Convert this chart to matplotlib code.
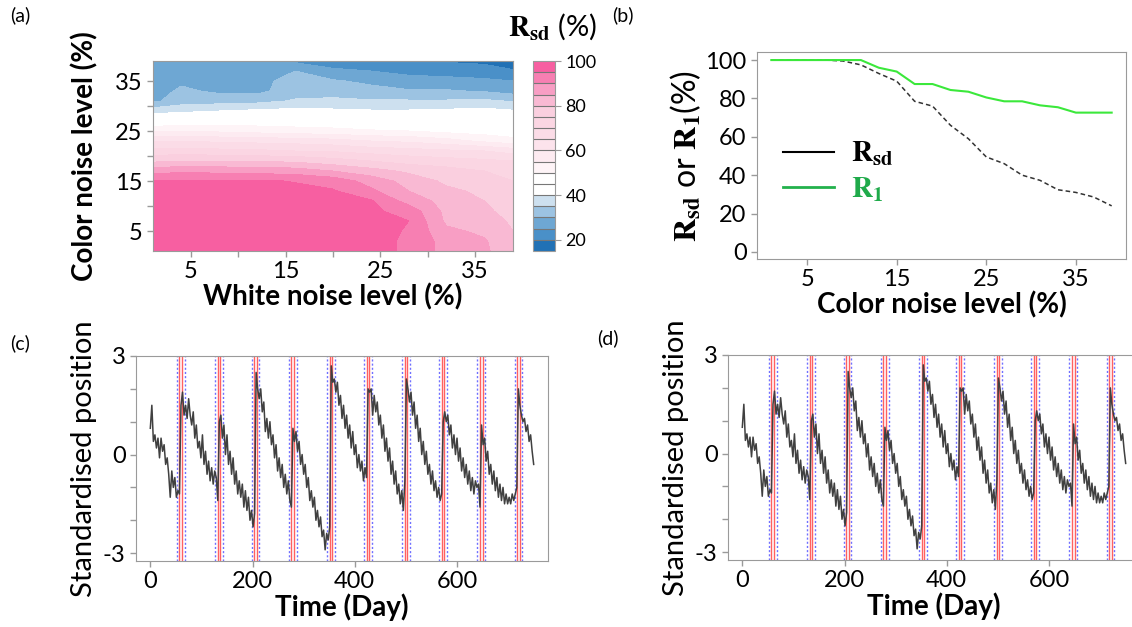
import numpy as np
import matplotlib
matplotlib.use("Agg")
import matplotlib.pyplot as plt
from matplotlib.colors import ListedColormap
from matplotlib.lines import Line2D

plt.rcParams['font.family'] = ['Lato', 'DejaVu Sans']
plt.rcParams['mathtext.fontset'] = 'stix'

# ---- panel (a): R_sd over white noise (columns) x color noise (rows) ----
white_noise = [1, 4, 8, 12, 16, 20, 24, 28, 32, 36, 39]
color_noise = [1, 3, 5, 7, 9, 11, 13, 15, 17, 19, 21, 23, 25, 27, 29, 31, 33, 35, 37, 39]
rsd_grid = [
    [97, 97, 97, 97, 97, 97, 97, 94, 88, 86, 81],
    [97, 97, 97, 97, 97, 97, 97, 94, 88, 85.5, 81],
    [97, 97, 97, 97, 97, 97, 97, 94.5, 86, 84, 80],
    [97, 97, 97, 97, 97, 97, 96.5, 95, 84, 83, 79],
    [97, 97, 97, 97, 97, 97, 96, 93, 83.5, 81, 78],
    [97, 97, 97, 97, 97, 96.5, 95.5, 88, 83, 80, 77],
    [96.5, 96.5, 96.5, 96.5, 96, 95.5, 91, 85, 81, 79, 76],
    [95.5, 95.5, 95.5, 95.5, 94.8, 93, 88, 83, 79, 77, 75],
    [88, 89, 88.5, 88, 87.5, 85, 82, 79, 77, 75, 73],
    [79, 80, 80, 79.5, 79, 77, 75, 73, 72, 71, 70],
    [72, 72, 71.5, 71, 70, 69.5, 68, 67, 66, 65, 63],
    [65, 65, 64, 63.5, 63, 62, 60, 59, 57, 54, 52],
    [54, 55, 54, 53, 52, 51.5, 50.5, 50, 48.5, 47.5, 46.5],
    [45.5, 46, 46.5, 47, 47, 46.5, 46, 45.5, 45.5, 45, 44.5],
    [38, 39, 40, 41, 41.5, 41, 40.5, 40.5, 41, 41.5, 40.5],
    [29, 32.5, 33, 33.5, 35.5, 36, 35.5, 35.5, 35.5, 36, 34.5],
    [27.5, 31, 29, 28.5, 33, 33, 31.5, 30.5, 30.5, 29.5, 28],
    [27, 29, 28, 28, 32.5, 30.5, 29, 27, 26.5, 26, 25],
    [26.5, 27, 27, 27, 30, 26.5, 25, 23.5, 23, 22, 20.5],
    [26, 26, 26, 25.5, 24, 21, 21, 21, 19.5, 19, 17],
]
rsd_levels = [15, 20, 25, 30, 35, 40, 45, 50, 55, 60, 65, 70, 75, 80, 85, 90, 95, 100]
level_colors = ['#2171b5', '#4a90c8', '#6ea7d3', '#9cc3e2', '#cde0ef', '#ffffff',
                '#ffffff', '#fef4f7', '#fdebf1', '#fce3ec', '#fbdce7', '#fbd6e3',
                '#facfdf', '#f9b9d3', '#f89ec4', '#f77fb2', '#f75fa1']

# ---- panel (b) ----
b_color_noise = [1, 3, 5, 7, 9, 11, 13, 15, 17, 19, 21, 23, 25, 27, 29, 31, 33, 35, 37, 39]
r_sd = [100, 100, 100, 100, 99.5, 97.5, 93, 89, 78.5, 76, 66, 59, 49.5, 46, 40, 37.3, 32.4, 31, 28.6, 24]
r_1 = [100, 100, 100, 100, 100, 100, 96, 94, 87.5, 87.5, 84.4, 83.5, 80.5, 78.5, 78.5, 76.4, 75.4, 72.6, 72.6, 72.6]

# ---- panels (c), (d): standardised position, every 3 days from day 0 ----
days = np.arange(0, 751, 3)
position = [
    0.8, 1.5, 0.4, 0.6, 0.2, 0.5, -0.1, 0.5, 0.1, 0.3, -0.3, -0.1, -0.6, -1.3, -0.5, -1.0, -0.7, -1.3, -1.1, -1.2,
    1.5, 1.9, 1.2, 1.5, 1.1, 1.7, 1.2, 0.9, 1.3, 0.5, 0.9, 0.2, 0.4, -0.1, 0.6, -0.3, 0.1, -0.6, -0.2, -0.8, -0.4, -0.9, -0.5, -0.7, -1.4,
    1.0, 1.2, 0.5, 0.9, 0.0, 0.6, -0.3, 0.1, -0.6, -0.1, -0.9, -0.5, -1.2, -0.8, -1.3, -0.9, -1.6, -1.1, -1.7, -1.3, -2.0, -1.7, -2.2, -1.8,
    2.5, 2.0, 1.7, 2.0, 1.3, 1.6, 0.7, 1.1, 0.5, 1.0, 0.3, 0.6, -0.1, 0.3, -0.5, -0.1, -0.7, -0.3, -1.0, -0.6, -1.2, -0.8, -1.4, -1.6,
    0.8, 0.4, 0.7, 0.1, 0.4, -0.3, 0.0, -0.6, -0.3, -1.0, -0.7, -1.4, -1.1, -1.6, -1.3, -2.0, -1.7, -2.2, -1.9, -2.5, -2.3, -2.9, -2.4, -2.6, -2.2,
    2.7, 2.2, 2.3, 1.9, 2.2, 1.5, 1.8, 1.1, 1.5, 0.8, 1.2, 0.5, 0.9, 0.2, 0.7, 0.0, 0.3, -0.4, 0.0, -0.5, -0.2, -0.8, -0.4, -0.7,
    2.0, 1.9, 2.0, 1.2, 1.8, 1.3, 1.6, 0.9, 1.2, 0.5, 0.9, 0.1, 0.5, -0.2, 0.2, -0.6, -0.2, -0.9, -0.5, -1.2, -0.9, -1.5, -1.1, -1.7, -0.8,
    2.3, 2.0, 1.6, 1.9, 1.2, 1.6, 0.8, 1.2, 0.4, 0.8, 0.0, 0.4, -0.3, 0.1, -0.6, -0.3, -0.9, -0.5, -1.1, -0.8, -1.3, -1.0, -1.4, -1.2,
    1.0, 1.3, 1.0, 1.2, 0.6, 0.9, 0.2, 0.6, 0.0, 0.5, -0.2, 0.2, -0.5, -0.1, -0.7, -0.3, -0.9, -0.5, -1.1, -0.7, -1.2, -0.8, -1.0, -0.9, -1.6,
    0.9, 0.3, 0.5, -0.2, 0.1, -0.6, -0.3, -0.9, -0.5, -1.1, -0.7, -1.3, -0.9, -1.4, -1.0, -1.5, -1.2, -1.5, -1.3, -1.5, -1.2, -1.4, -1.2, -1.0,
    2.0, 1.5, 1.2, 1.0, 1.1, 0.7, 0.9, 0.4, 0.6, 0.1, -0.3,
]
red_days = [57, 62, 132, 137, 203, 208, 276, 281, 351, 356, 423, 428, 498, 503, 570, 575, 645, 650, 718, 723]
blue_days = [52, 67, 127, 142, 198, 213, 271, 286, 346, 361, 418, 433, 493, 508, 565, 580, 640, 655, 713, 728]

spine_c = '#9a9a9a'
W = 1132
H = 627


def box(px_left, px_top, px_right, px_bottom):
    return [px_left / W, 1 - px_bottom / H, (px_right - px_left) / W, (px_bottom - px_top) / H]


def style_axes(ax):
    for s in ax.spines.values():
        s.set_color(spine_c)
    ax.tick_params(colors=spine_c, labelcolor='black', labelsize=17, length=4, width=1)


fig = plt.figure(figsize=(11.32, 6.27), dpi=100)

# (a)
ax_a = fig.add_axes(box(153, 61, 513, 251))
cmap = ListedColormap(level_colors)
cs = ax_a.contourf(white_noise, color_noise, np.array(rsd_grid), levels=rsd_levels, cmap=cmap)
ax_a.set_xlim(1, 39)
ax_a.set_ylim(1, 39)
ax_a.set_xticks(range(5, 40, 5))
ax_a.set_xticklabels(['5', '', '15', '', '25', '', '35'])
ax_a.set_yticks(range(5, 40, 5))
ax_a.set_yticklabels(['5', '', '15', '', '25', '', '35'])
style_axes(ax_a)
ax_a.set_xlabel('White noise level (%)', fontsize=20, fontweight='bold', labelpad=1)
ax_a.set_ylabel('Color noise level (%)', fontsize=20, fontweight='bold', labelpad=12)

cax = fig.add_axes(box(533, 61, 555, 251))
cb = fig.colorbar(cs, cax=cax, ticks=[20, 40, 60, 80, 100], drawedges=True)
cb.outline.set_edgecolor(spine_c)
cb.dividers.set_color('#777777')
cb.dividers.set_linewidth(0.8)
cax.tick_params(labelsize=13, colors=spine_c, labelcolor='black', length=4)
fig.text(553 / W, 1 - 27 / H, r'$\mathbf{R_{sd}}$ (%)', fontsize=21, ha='center', va='center')

# (b)
ax_b = fig.add_axes(box(757, 52, 1126, 259))
ax_b.plot(b_color_noise, r_sd, color='#333333', lw=1.1, ls=(0, (3, 2)))
ax_b.plot(b_color_noise, r_1, color='#3be83b', lw=1.5)
ax_b.set_xlim(-0.6, 40.6)
ax_b.set_ylim(-3.7, 104.2)
ax_b.set_xticks([5, 15, 25, 35])
ax_b.set_yticks(range(0, 101, 20))
style_axes(ax_b)
ax_b.set_xlabel('Color noise level (%)', fontsize=20, fontweight='bold', labelpad=1)
ax_b.set_ylabel(r'$\mathbf{R_{sd}}$ or $\mathbf{R_1}$(%)', fontsize=23, labelpad=2)
handles = [Line2D([], [], color='black', lw=1.5), Line2D([], [], color='#22b14c', lw=2)]
leg = ax_b.legend(handles, [r'$\mathbf{R_{sd}}$', r'$\mathbf{R_1}$'], loc='center left',
                  bbox_to_anchor=(0.07, 0.42), frameon=False, fontsize=21,
                  handlelength=1.75, labelspacing=0.25, handletextpad=0.6,
                  borderpad=0, borderaxespad=0)
leg.get_texts()[1].set_color('#1faa4a')


# (c) and (d)
def series_panel(rect):
    ax = fig.add_axes(rect)
    for d in blue_days:
        ax.axvline(d, color='#7070ff', ls=(0, (1.5, 1.5)), lw=1, zorder=1)
    for d in red_days:
        ax.axvline(d, color='#ff6060', lw=1, zorder=1)
    ax.plot(days, position, color='#404040', lw=1.1, zorder=2)
    ax.set_xlim(-28, 778)
    ax.set_ylim(-3.24, 3)
    ax.set_xticks([0, 200, 400, 600])
    ax.set_yticks(range(-3, 4))
    ax.set_yticklabels(['-3', '', '', '0', '', '', '3'])
    style_axes(ax)
    ax.set_xlabel('Time (Day)', fontsize=20, fontweight='bold', labelpad=1)
    ax.set_ylabel('Standardised position', fontsize=21, labelpad=4)
    return ax


ax_c = series_panel(box(136, 356, 548, 561))
ax_d = series_panel(box(728, 355, 1140, 560))

for label, x, y in [('(a)', 20, 15), ('(b)', 623, 15), ('(c)', 20, 343), ('(d)', 608, 338)]:
    fig.text(x / W, 1 - y / H, label, fontsize=14, ha='center', va='center')

fig.savefig('out.png', dpi=100)
